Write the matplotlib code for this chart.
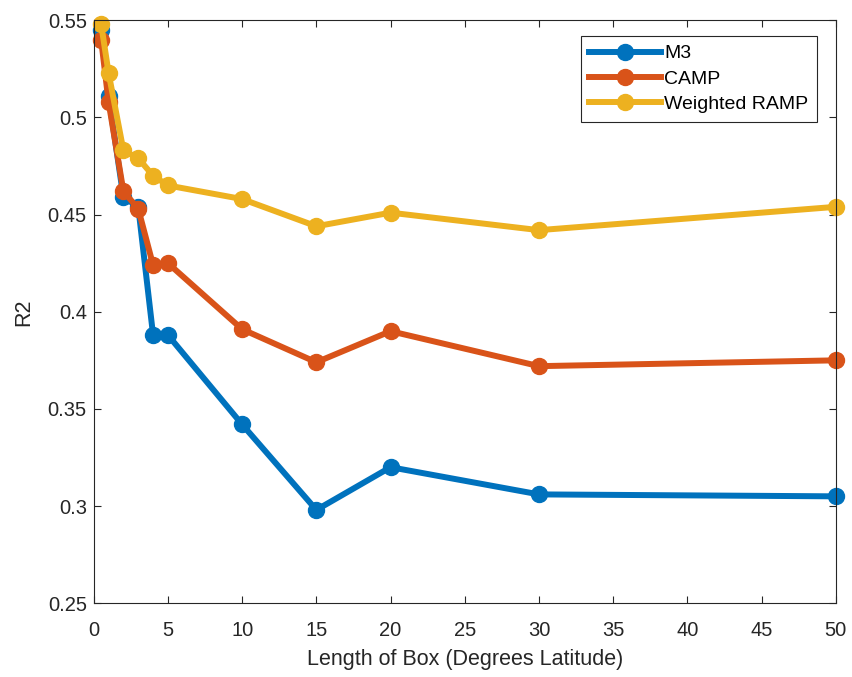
import matplotlib.pyplot as plt

plt.rcParams['font.family'] = ['Liberation Sans', 'DejaVu Sans']

box_len = [0.5, 1, 2, 3, 4, 5, 10, 15, 20, 30, 50]
m3 = [0.545, 0.511, 0.459, 0.454, 0.388, 0.388, 0.342, 0.298, 0.320, 0.306, 0.305]
camp = [0.540, 0.508, 0.462, 0.453, 0.424, 0.425, 0.391, 0.374, 0.390, 0.372, 0.375]
wramp = [0.548, 0.523, 0.483, 0.479, 0.470, 0.465, 0.458, 0.444, 0.451, 0.442, 0.454]

fig = plt.figure(figsize=(8.52, 6.77), dpi=100)
ax = fig.add_axes([0.110, 0.109, 0.871, 0.861])

ax.plot(box_len, m3, '-o', color='#0072BD', lw=4.3, ms=11.5, label='M3', clip_on=False)
ax.plot(box_len, camp, '-o', color='#D95319', lw=4.3, ms=11.5, label='CAMP', clip_on=False)
ax.plot(box_len, wramp, '-o', color='#EDB120', lw=4.3, ms=11.5, label='Weighted RAMP', clip_on=False)

ax.set_xlim(0, 50)
ax.set_ylim(0.25, 0.55)
ax.set_xticks(range(0, 51, 5))
ax.set_yticks([0.25, 0.3, 0.35, 0.4, 0.45, 0.5, 0.55])
ax.set_yticklabels(['0.25', '0.3', '0.35', '0.4', '0.45', '0.5', '0.55'])
ax.tick_params(direction='in', length=5, labelsize=14.5, colors='#262626', top=True, right=True)
ax.tick_params(axis='x', pad=13)
ax.tick_params(axis='y', pad=5)
for s in ax.spines.values():
    s.set_color('#262626')
    s.set_linewidth(0.8)

ax.set_xlabel('Length of Box (Degrees Latitude)', fontsize=15.5, color='#262626', labelpad=6)
ax.set_ylabel('R2', fontsize=15.5, color='#262626', labelpad=10)

leg = ax.legend(loc='upper right', bbox_to_anchor=(817 / 852, 1 - 36 / 677),
                bbox_transform=fig.transFigure, borderaxespad=0, fontsize=14,
                fancybox=False, edgecolor='#262626', framealpha=1,
                handlelength=3.7, borderpad=0.45, labelspacing=0.4, handletextpad=0.15)
leg.get_frame().set_linewidth(0.8)

fig.savefig('out.png', dpi=100)
